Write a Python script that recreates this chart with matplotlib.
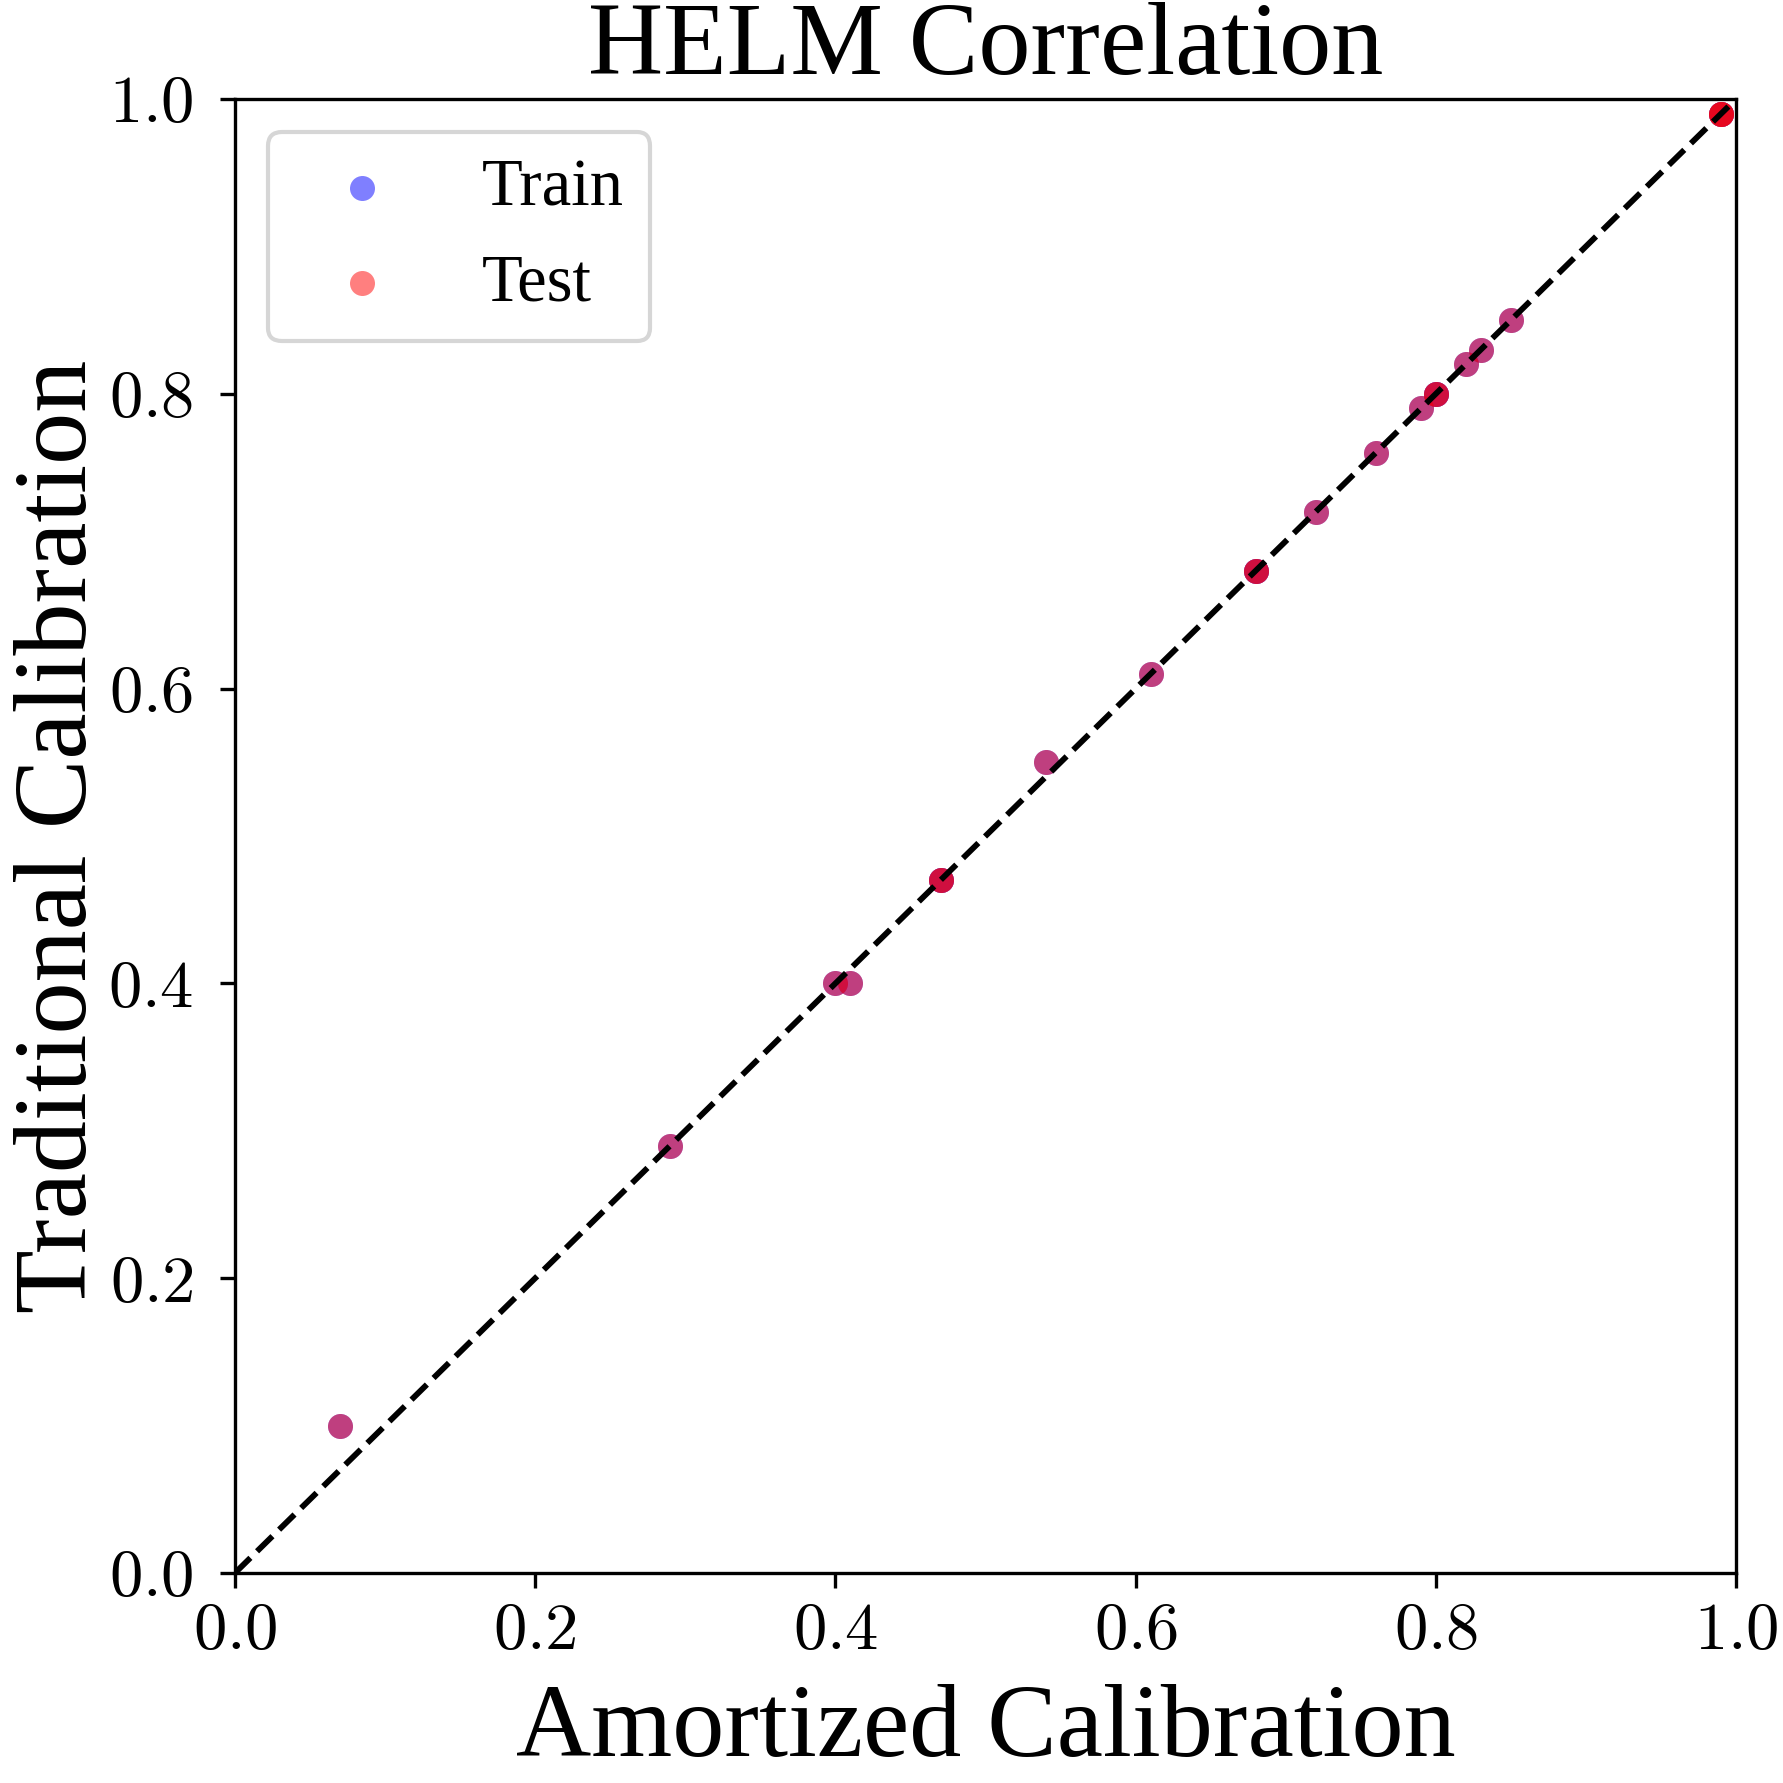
import numpy as np
import matplotlib
matplotlib.use("Agg")
import matplotlib.pyplot as plt
from matplotlib.ticker import FuncFormatter

plt.rcParams['font.family'] = ['Liberation Serif', 'DejaVu Serif']
plt.rcParams['mathtext.fontset'] = 'cm'

# valores (calibracion amortizada vs tradicional)
train_x = [0.07, 0.29, 0.40, 0.41, 0.47, 0.47, 0.54, 0.61, 0.68, 0.68, 0.72, 0.76,
           0.79, 0.80, 0.80, 0.82, 0.83, 0.85, 0.99, 0.99]
train_y = [0.10, 0.29, 0.40, 0.40, 0.47, 0.47, 0.55, 0.61, 0.68, 0.68, 0.72, 0.76,
           0.79, 0.80, 0.80, 0.82, 0.83, 0.85, 0.99, 0.99]
test_x = [0.07, 0.29, 0.40, 0.41, 0.47, 0.47, 0.54, 0.61, 0.68, 0.68, 0.72, 0.76,
          0.79, 0.80, 0.80, 0.82, 0.83, 0.85, 0.99, 0.99, 0.99]
test_y = [0.10, 0.29, 0.40, 0.40, 0.47, 0.47, 0.55, 0.61, 0.68, 0.68, 0.72, 0.76,
          0.79, 0.80, 0.80, 0.82, 0.83, 0.85, 0.99, 0.99, 0.99]
ticks = [0.0, 0.2, 0.4, 0.6, 0.8, 1.0]

fig = plt.figure(figsize=(1783 / 300, 1783 / 300), dpi=300)
ax = fig.add_axes([0.1318, 0.1178, 0.8419, 0.8267])

ax.scatter(train_x, train_y, color='blue', alpha=0.5, s=36, linewidths=0, label='Train')
ax.scatter(test_x, test_y, color='red', alpha=0.5, s=36, linewidths=0, label='Test')
ax.plot([0, 1], [0, 1], 'k--', linewidth=1.4)

ax.set_xlim(0, 1)
ax.set_ylim(0, 1)
ax.set_xticks(ticks)
ax.set_yticks(ticks)
fmt = FuncFormatter(lambda v, p: r'$%.1f$' % v)
ax.xaxis.set_major_formatter(fmt)
ax.yaxis.set_major_formatter(fmt)
ax.tick_params(labelsize=16)
ax.tick_params(axis='y', pad=6.5)

ax.set_title('HELM Correlation', fontsize=25)
ax.set_xlabel('Amortized Calibration', fontsize=25, labelpad=5)
ax.set_ylabel('Traditional Calibration', fontsize=25, labelpad=0)
ax.legend(loc='upper left', fontsize=16)

plt.savefig('out.png', dpi=300)
plt.close()
